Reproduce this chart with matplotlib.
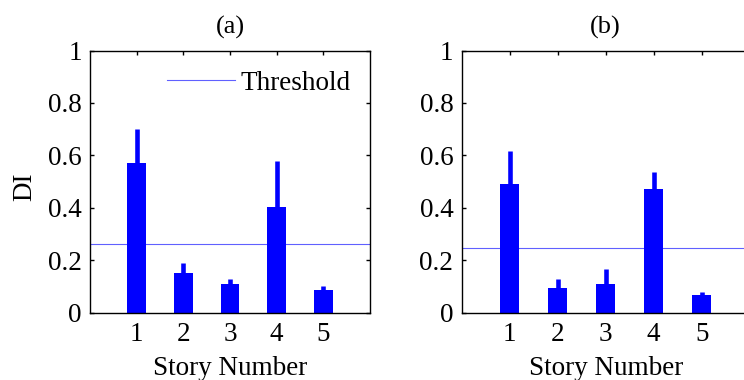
import matplotlib
matplotlib.use('Agg')
import matplotlib.pyplot as plt

# datos
pisos = [1, 2, 3, 4, 5]
di_a = [0.57, 0.153, 0.109, 0.402, 0.086]
sup_a = [0.70, 0.188, 0.127, 0.58, 0.102]
umbral_a = 0.263
di_b = [0.491, 0.093, 0.108, 0.471, 0.068]
sup_b = [0.617, 0.127, 0.166, 0.537, 0.079]
umbral_b = 0.246
yticks = [0, 0.2, 0.4, 0.6, 0.8, 1]
ylabels = ['0', '0.2', '0.4', '0.6', '0.8', '1']

plt.rcParams['font.family'] = ['Liberation Serif', 'DejaVu Serif']
plt.rcParams['font.size'] = 19.5

fig = plt.figure(figsize=(7.44, 3.80), dpi=100)
ax_a = fig.add_axes([90/744, 1-312.6/380, 280/744, 262/380])
ax_b = fig.add_axes([461.7/744, 1-312.6/380, 288/744, 262/380])


def panel(ax, di, sup, umbral, titulo):
    ax.bar(pisos, di, width=0.4, color='#0000ff', zorder=2)
    ax.vlines(pisos, di, sup, color='#0000ff', linewidth=3.3, zorder=2)
    ax.axhline(umbral, color='#6060ff', linewidth=0.8, zorder=1, label='Threshold')
    ax.set_xlim(0, 6)
    ax.set_ylim(0, 1)
    ax.set_xticks(pisos)
    ax.set_yticks(yticks)
    ax.set_yticklabels(ylabels)
    ax.tick_params(direction='in', top=True, right=True, length=3, width=1)
    ax.tick_params(axis='y', pad=6)
    ax.tick_params(axis='x', pad=7)
    for s in ax.spines.values():
        s.set_linewidth(1.0)
    ax.set_title(titulo, fontsize=19, pad=12)
    ax.set_xlabel('Story Number')
    ax.xaxis.set_label_coords(0.5, -0.165)


panel(ax_a, di_a, sup_a, umbral_a, '(a)')
panel(ax_b, di_b, sup_b, umbral_b, '(b)')

ax_a.set_ylabel('DI')
ax_a.yaxis.set_label_coords(-0.19, 0.48)
ax_a.legend(loc='center right', bbox_to_anchor=(0.93, 0.876), frameon=False,
            handlelength=2.5, handletextpad=0.2, borderpad=0, borderaxespad=0)

fig.savefig('out.png', dpi=100)
